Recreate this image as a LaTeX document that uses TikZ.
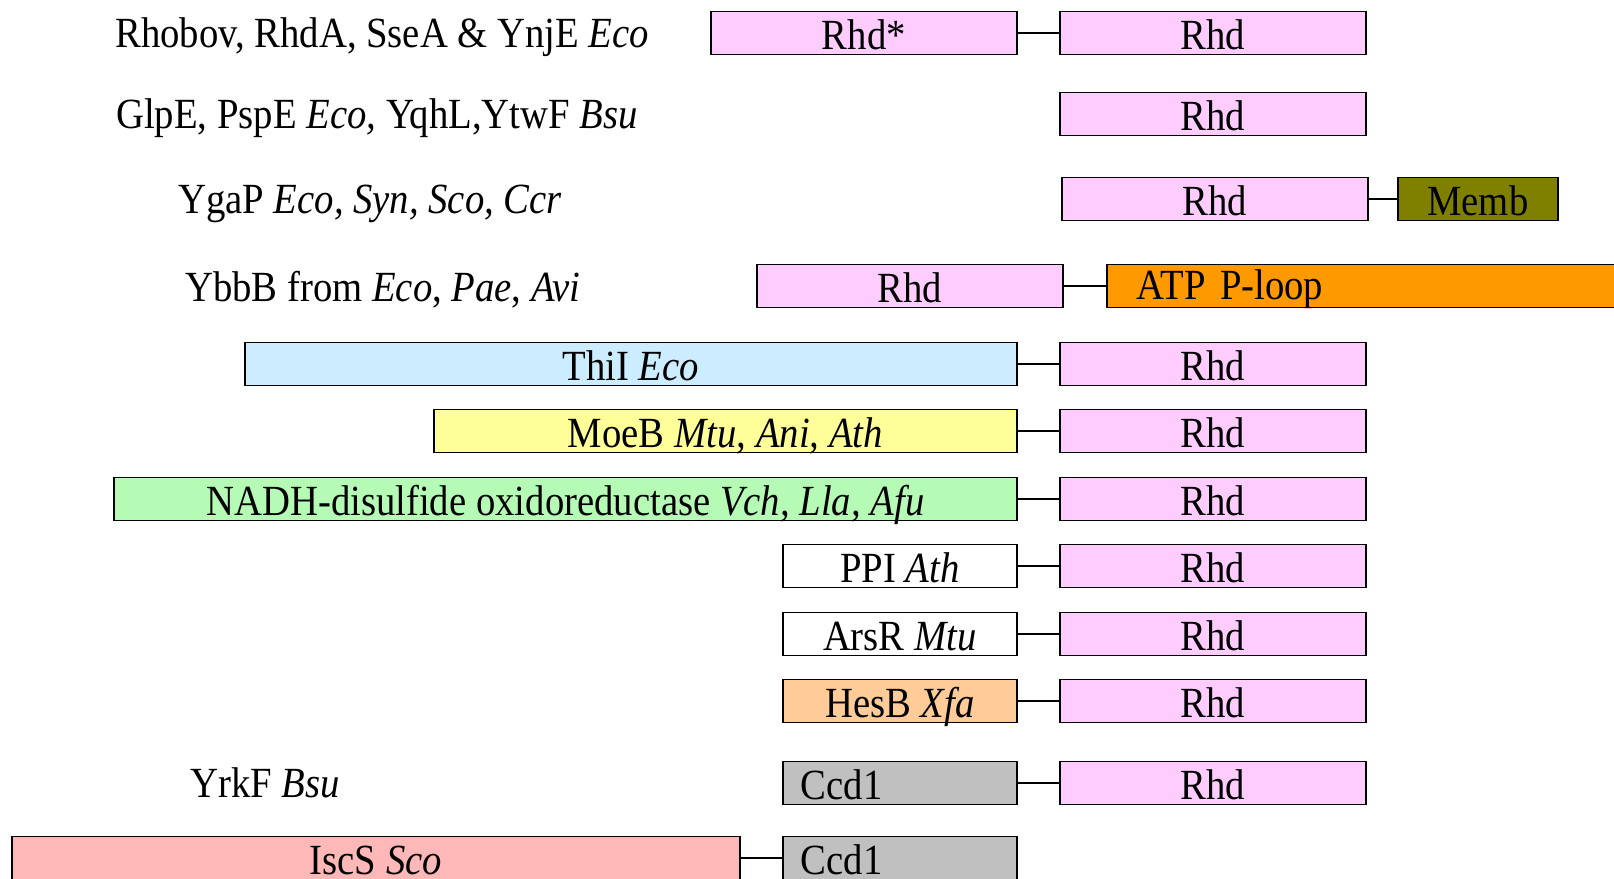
\documentclass[tikz,border=0pt]{standalone}
\usepackage{fontspec}
\setmainfont{Liberation Serif}[FakeStretch=0.9]
\definecolor{rhdpink}{HTML}{FFCCFF}
\definecolor{thiblue}{HTML}{CCECFF}
\definecolor{moeyellow}{HTML}{FFFF99}
\definecolor{nadhgreen}{HTML}{B5FBB5}
\definecolor{hesorange}{HTML}{FFCC99}
\definecolor{ccdgray}{HTML}{C0C0C0}
\definecolor{iscpink}{HTML}{FFB8B8}
\definecolor{atporange}{HTML}{FF9900}
\definecolor{memolive}{HTML}{808000}
\begin{document}
\begin{tikzpicture}[x=1pt,y=-1pt,
  dom/.style={draw=black, line width=1.8pt, minimum height=43pt, inner sep=0pt, anchor=west,
    text height=32pt, text depth=0pt, font=\fontsize{43}{46}\selectfont},
  lbl/.style={anchor=west, inner sep=0pt, text height=29pt, text depth=0pt, font=\fontsize{43}{46}\selectfont},
  link/.style={draw=black, line width=1.8pt}]
\useasboundingbox (0,0) rectangle (1614,878);
% row 1
\node[lbl] (t1) at (115,33) {Rhobov, RhdA, SseA \& YnjE \textit{Eco}};
\node[dom, fill=rhdpink, minimum width=306pt] (a1) at (710,33) {Rhd*};
\node[dom, fill=rhdpink, minimum width=306pt] (b1) at (1059,33) {Rhd};
\draw[link] (a1.east) -- (b1.west);
% row 2
\node[lbl] (t2) at (116,114) {GlpE, PspE \textit{Eco,} YqhL,YtwF \textit{Bsu}};
\node[dom, fill=rhdpink, minimum width=306pt] (b2) at (1059,114) {Rhd};
% row 3
\node[lbl] (t3) at (178,199) {YgaP \textit{Eco, Syn, Sco, Ccr}};
\node[dom, fill=rhdpink, minimum width=306pt] (b3) at (1061,199) {Rhd};
\node[dom, fill=memolive, minimum width=160pt] (c3) at (1397,199) {Memb};
\draw[link] (b3.east) -- (c3.west);
% row 4
\node[lbl] (t4) at (185,287) {YbbB from \textit{Eco}, \textit{Pae}, \textit{Avi}};
\node[dom, fill=rhdpink, minimum width=306pt] (a4) at (756,286) {Rhd};
\node[dom, fill=atporange, text width=500pt, inner xsep=30pt, align=left, text height=26pt] (b4) at (1106,286) {ATP P-loop};
\draw[link] (a4.east) -- (b4.west);
% row 5
\node[dom, fill=thiblue, minimum width=772pt] (a5) at (244,364) {ThiI \textit{Eco}};
\node[dom, fill=rhdpink, minimum width=306pt] (b5) at (1059,364) {Rhd};
\draw[link] (a5.east) -- (b5.west);
% row 6
\node[dom, fill=moeyellow, minimum width=583pt] (a6) at (433,431) {MoeB \textit{Mtu, Ani, Ath}};
\node[dom, fill=rhdpink, minimum width=306pt] (b6) at (1059,431) {Rhd};
\draw[link] (a6.east) -- (b6.west);
% row 7
\node[dom, fill=nadhgreen, minimum width=903pt] (a7) at (113,499) {NADH-disulfide oxidoreductase \textit{Vch, Lla, Afu}};
\node[dom, fill=rhdpink, minimum width=306pt] (b7) at (1059,499) {Rhd};
\draw[link] (a7.east) -- (b7.west);
% row 8
\node[dom, fill=white, minimum width=234pt] (a8) at (782,566) {PPI \textit{Ath}};
\node[dom, fill=rhdpink, minimum width=306pt] (b8) at (1059,566) {Rhd};
\draw[link] (a8.east) -- (b8.west);
% row 9
\node[dom, fill=white, minimum width=234pt] (a9) at (782,634) {ArsR \textit{Mtu}};
\node[dom, fill=rhdpink, minimum width=306pt] (b9) at (1059,634) {Rhd};
\draw[link] (a9.east) -- (b9.west);
% row 10
\node[dom, fill=hesorange, minimum width=234pt] (a10) at (782,701) {HesB \textit{Xfa}};
\node[dom, fill=rhdpink, minimum width=306pt] (b10) at (1059,701) {Rhd};
\draw[link] (a10.east) -- (b10.west);
% row 11
\node[lbl] (t11) at (190,783) {YrkF \textit{Bsu}};
\node[dom, fill=ccdgray, text width=198pt, inner xsep=18pt, align=left] (a11) at (782,783) {Ccd1};
\node[dom, fill=rhdpink, minimum width=306pt] (b11) at (1059,783) {Rhd};
\draw[link] (a11.east) -- (b11.west);
% row 12
\node[dom, fill=iscpink, minimum width=728pt] (a12) at (11,858) {IscS \textit{Sco}};
\node[dom, fill=ccdgray, text width=198pt, inner xsep=18pt, align=left] (b12) at (782,858) {Ccd1};
\draw[link] (a12.east) -- (b12.west);
\end{tikzpicture}
\end{document}
